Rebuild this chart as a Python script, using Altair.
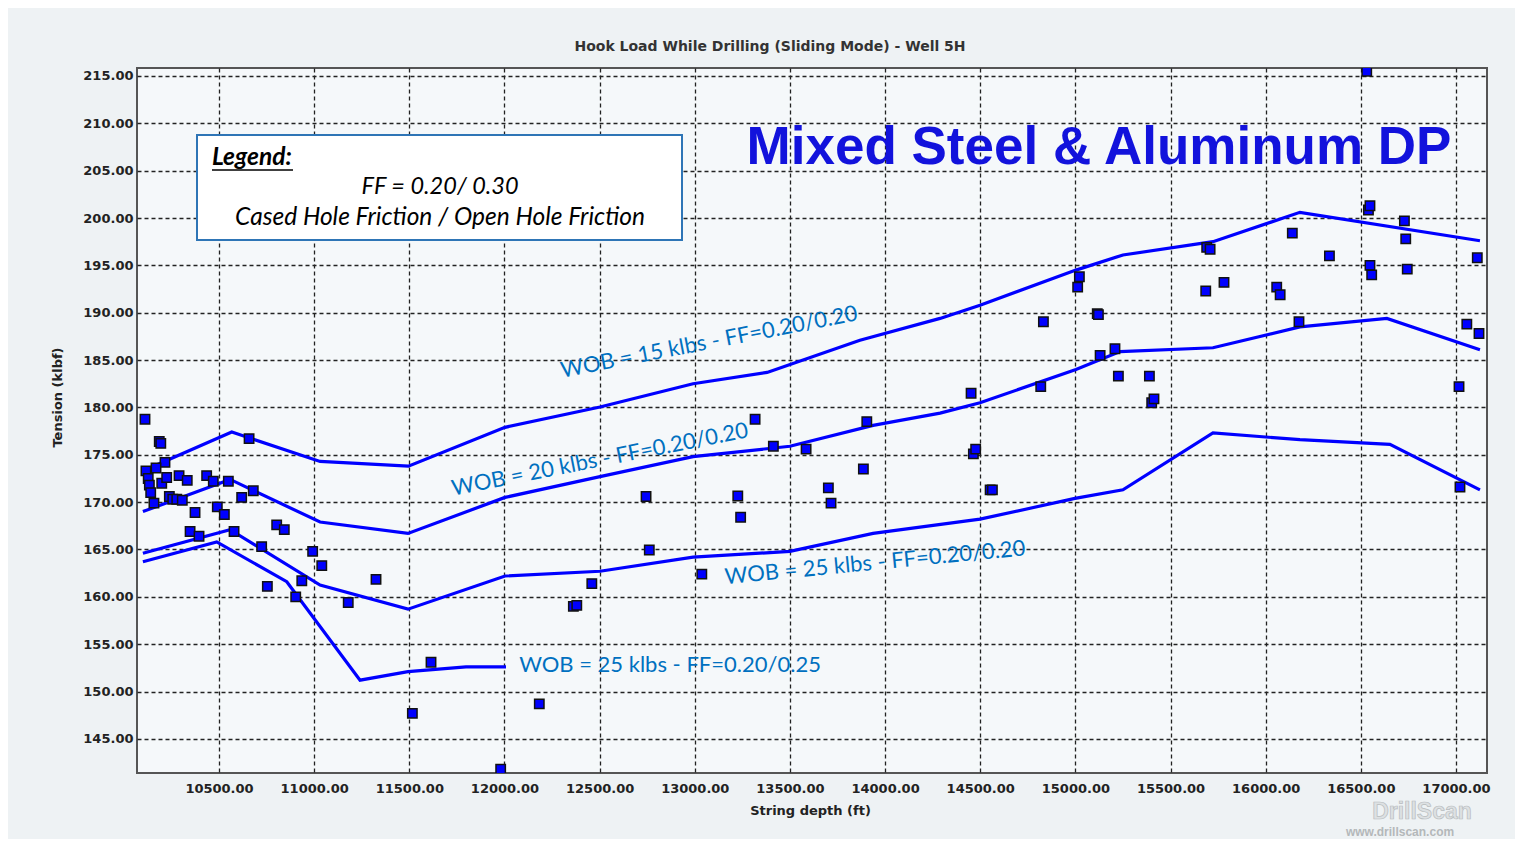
import altair as alt
import pandas as pd

# ---------------- data ----------------
x_ticks = [10500, 11000, 11500, 12000, 12500, 13000, 13500, 14000,
           14500, 15000, 15500, 16000, 16500, 17000]
y_ticks = [145, 150, 155, 160, 165, 170, 175, 180, 185, 190, 195,
           200, 205, 210, 215]

wob15_x = [10111, 10567, 11031, 11495, 12003, 12502, 12991, 13380, 13868,
           14289, 14499, 15003, 15250, 15723, 16180, 17126]
wob15_y = [173.4, 177.4, 174.3, 173.8, 177.9, 180.05, 182.5, 183.7, 187.1,
           189.4, 190.8, 194.5, 196.1, 197.5, 200.6, 197.6]

wob20_x = [10100, 10558, 11031, 11493, 12003, 12502, 12991, 13500, 13937,
           14289, 14499, 15003, 15235, 15723, 16180, 16637, 17126]
wob20_y = [169.0, 172.4, 167.9, 166.7, 170.5, 172.7, 174.8, 175.9, 178.1,
           179.4, 180.5, 184.0, 185.9, 186.3, 188.5, 189.4, 186.1]

wob25_x = [10100, 10558, 11031, 11493, 12003, 12502, 12991, 13500, 13937,
           14499, 14998, 15250, 15723, 16180, 16653, 17126]
wob25_y = [164.6, 167.1, 161.25, 158.7, 162.2, 162.7, 164.2, 164.8, 166.7,
           168.2, 170.4, 171.3, 177.3, 176.6, 176.1, 171.3]

wob25b_x = [10100, 10488, 10856, 11241, 11493, 11798, 12008]
wob25b_y = [163.7, 165.8, 161.6, 151.2, 152.1, 152.6, 152.6]

meas_depth = [10111, 10186, 10194, 10658, 10216, 10169, 10116, 10128, 10134,
              10141, 10158, 10199, 10225, 10290, 10333, 10435, 10470, 10549,
              10239, 10257, 10278, 10307, 10374, 10348, 10395, 10491, 10528,
              10619, 10680, 10579, 10724, 10803, 10843, 10754, 10903, 10935,
              10992, 11040, 11179, 11325,
              13037, 12459, 12362, 12380, 11614, 11516, 12183, 11980,
              13317, 13413, 13585, 13904, 14452, 14464, 14476, 14552, 14564,
              13886, 13702, 13716, 12744, 13226, 13241, 12761,
              14832, 15021, 15012, 15115, 15121, 14818, 15130, 15208, 15226,
              15389, 15401, 15413, 15690, 15708, 15685, 15781, 16058, 16076,
              16140, 16335, 16175, 16540, 16548, 16729, 16736, 16548, 16557,
              16744, 17112, 17057, 17121, 17016, 16531, 17021]
meas_tension = [178.75, 176.4, 176.2, 176.7, 174.2, 173.6, 173.3, 172.5, 171.8,
                171.0, 169.9, 172.0, 172.6, 172.8, 172.3, 172.8, 172.2, 172.2,
                170.6, 170.3, 170.3, 170.2, 168.9, 166.9, 166.4, 169.5, 168.7,
                170.5, 171.2, 166.9, 165.3, 167.6, 167.1, 161.1, 160.0, 161.7,
                164.8, 163.3, 159.4, 161.85,
                162.4, 161.4, 159.0, 159.1, 153.1, 147.7, 148.7, 141.8,
                178.75, 175.9, 175.6, 178.5, 181.5, 175.1, 175.6, 171.3, 171.3,
                173.5, 171.5, 169.9, 170.6, 170.65, 168.4, 164.95,
                189.05, 193.8, 192.7, 189.9, 189.8, 182.2, 185.5, 186.2, 183.3,
                183.3, 180.5, 180.9, 196.9, 196.7, 192.3, 193.2, 192.7, 191.9,
                198.4, 196.0, 189.05, 200.85, 201.3, 199.7, 197.8, 195.0, 194.0,
                194.6, 195.8, 188.8, 187.8, 182.2, 215.5, 171.6]

label_text = ["WOB = 15 klbs - FF=0.20/0.20", "WOB = 20 klbs - FF=0.20/0.20",
              "WOB = 25 klbs - FF=0.20/0.20", "WOB = 25 klbs - FF=0.20/0.25"]
label_depth = [13075, 12502, 13947, 12870]
label_tension = [186.9, 174.5, 163.6, 152.8]
label_angle = [349.0, 348.8, 354.5, 0.0]

# ---------------- tables ----------------
rows = []
for name, xs, ys in [("wob15", wob15_x, wob15_y), ("wob20", wob20_x, wob20_y),
                     ("wob25", wob25_x, wob25_y), ("wob25b", wob25b_x, wob25b_y)]:
    for i, (a, b) in enumerate(zip(xs, ys)):
        rows.append({"series": name, "idx": i, "depth": a, "tension": b})
lines_df = pd.DataFrame(rows)
pts_df = pd.DataFrame({"depth": meas_depth, "tension": meas_tension})
lab_df = pd.DataFrame({"text": label_text, "depth": label_depth,
                       "tension": label_tension, "angle": label_angle})
one = pd.DataFrame({"a": [0]})

AX_FONT = "DejaVu Sans"

xenc = alt.X("depth:Q",
             scale=alt.Scale(domain=[10069, 17163], nice=False, zero=False),
             axis=alt.Axis(values=x_ticks, format=".2f", title="String depth (ft)",
                           titleX=673, titleY=37, titleBaseline="middle",
                           labelPadding=9))
yenc = alt.Y("tension:Q",
             scale=alt.Scale(domain=[141.4, 215.84], nice=False, zero=False),
             axis=alt.Axis(values=y_ticks, format=".2f", title="Tension (klbf)",
                           titleX=-80, titleY=329, titleAngle=270,
                           titleBaseline="middle", labelPadding=4))

lines = alt.Chart(lines_df).mark_line(color="#0000ff", strokeWidth=3.2, clip=True).encode(
    x=xenc, y=yenc, detail="series:N", order="idx:Q")

points = alt.Chart(pts_df).mark_square(size=88, fill="#0000ff", stroke="#111111",
                                       strokeWidth=1.5, opacity=1, filled=True,
                                       clip=True).encode(
    x="depth:Q", y="tension:Q")

labels = alt.Chart(lab_df).mark_text(font="Lato", fontSize=22, color="#0070c0",
                                     align="center", baseline="middle").encode(
    x="depth:Q", y="tension:Q", text="text:N", angle=alt.Angle("angle:Q", scale=None))

legend_box = alt.Chart(one).mark_rect(fill="white", stroke="#2e75b6", strokeWidth=2).encode(
    x=alt.value(60), x2=alt.value(545), y=alt.value(67), y2=alt.value(172))
legend_title = alt.Chart(one).mark_text(font="Lato", fontSize=24.5, fontWeight="bold",
                                        fontStyle="italic", color="black", align="left",
                                        baseline="middle").encode(
    x=alt.value(75), y=alt.value(90), text=alt.value("Legend:"))
legend_ul = alt.Chart(one).mark_rule(color="black", strokeWidth=1.5).encode(
    x=alt.value(75), x2=alt.value(156), y=alt.value(102))
legend_l1 = alt.Chart(one).mark_text(font="Lato", fontSize=23.5, fontStyle="italic",
                                     color="black", align="center", baseline="middle").encode(
    x=alt.value(303), y=alt.value(119), text=alt.value("FF = 0.20/ 0.30"))
legend_l2 = alt.Chart(one).mark_text(font="Lato", fontSize=24.5, fontStyle="italic",
                                     color="black", align="center", baseline="middle").encode(
    x=alt.value(303), y=alt.value(150), text=alt.value("Cased Hole Friction / Open Hole Friction"))

big_title = alt.Chart(one).mark_text(font="Liberation Sans", fontSize=53, fontWeight="bold",
                                     color="#1212dc", align="center", baseline="middle").encode(
    x=alt.value(962), y=alt.value(80), text=alt.value("Mixed Steel & Aluminum DP"))

wm1 = alt.Chart(one).mark_text(font="Liberation Sans", fontSize=23, fontWeight="bold",
                               color="#dde1e3", stroke="#b8bcbe", strokeWidth=0.7,
                               align="center", baseline="middle").encode(
    x=alt.value(1285), y=alt.value(744), text=alt.value("DrillScan"))
wm2 = alt.Chart(one).mark_text(font="Liberation Sans", fontSize=12, fontWeight="bold",
                               color="#b4b8ba", align="center", baseline="middle").encode(
    x=alt.value(1263), y=alt.value(764), text=alt.value("www.drillscan.com"))

chart = alt.layer(lines, points, labels, legend_box, legend_title, legend_ul,
                  legend_l1, legend_l2, big_title, wm1, wm2).properties(
    width=1350, height=705,
    autosize="none",
    padding={"left": 129, "top": 60, "right": 28, "bottom": 66},
    background="#eef2f4",
    title=alt.Title("Hook Load While Drilling (Sliding Mode) - Well 5H",
                    font=AX_FONT, fontSize=14, fontWeight="bold", color="#333333",
                    anchor="middle", dx=-42, offset=14),
).configure_view(
    fill="#f5f8fa", stroke="#555555", strokeWidth=2
).configure_axis(
    grid=True, gridColor="#222222", gridDash=[4, 3], gridWidth=1.3,
    domain=False, ticks=False,
    labelFont=AX_FONT, labelFontSize=13, labelFontWeight="bold", labelColor="#222222",
    titleFont=AX_FONT, titleFontSize=13, titleFontWeight="bold", titleColor="#222222",
)

chart.save("out.html", embed_options={"renderer": "svg", "actions": False})
